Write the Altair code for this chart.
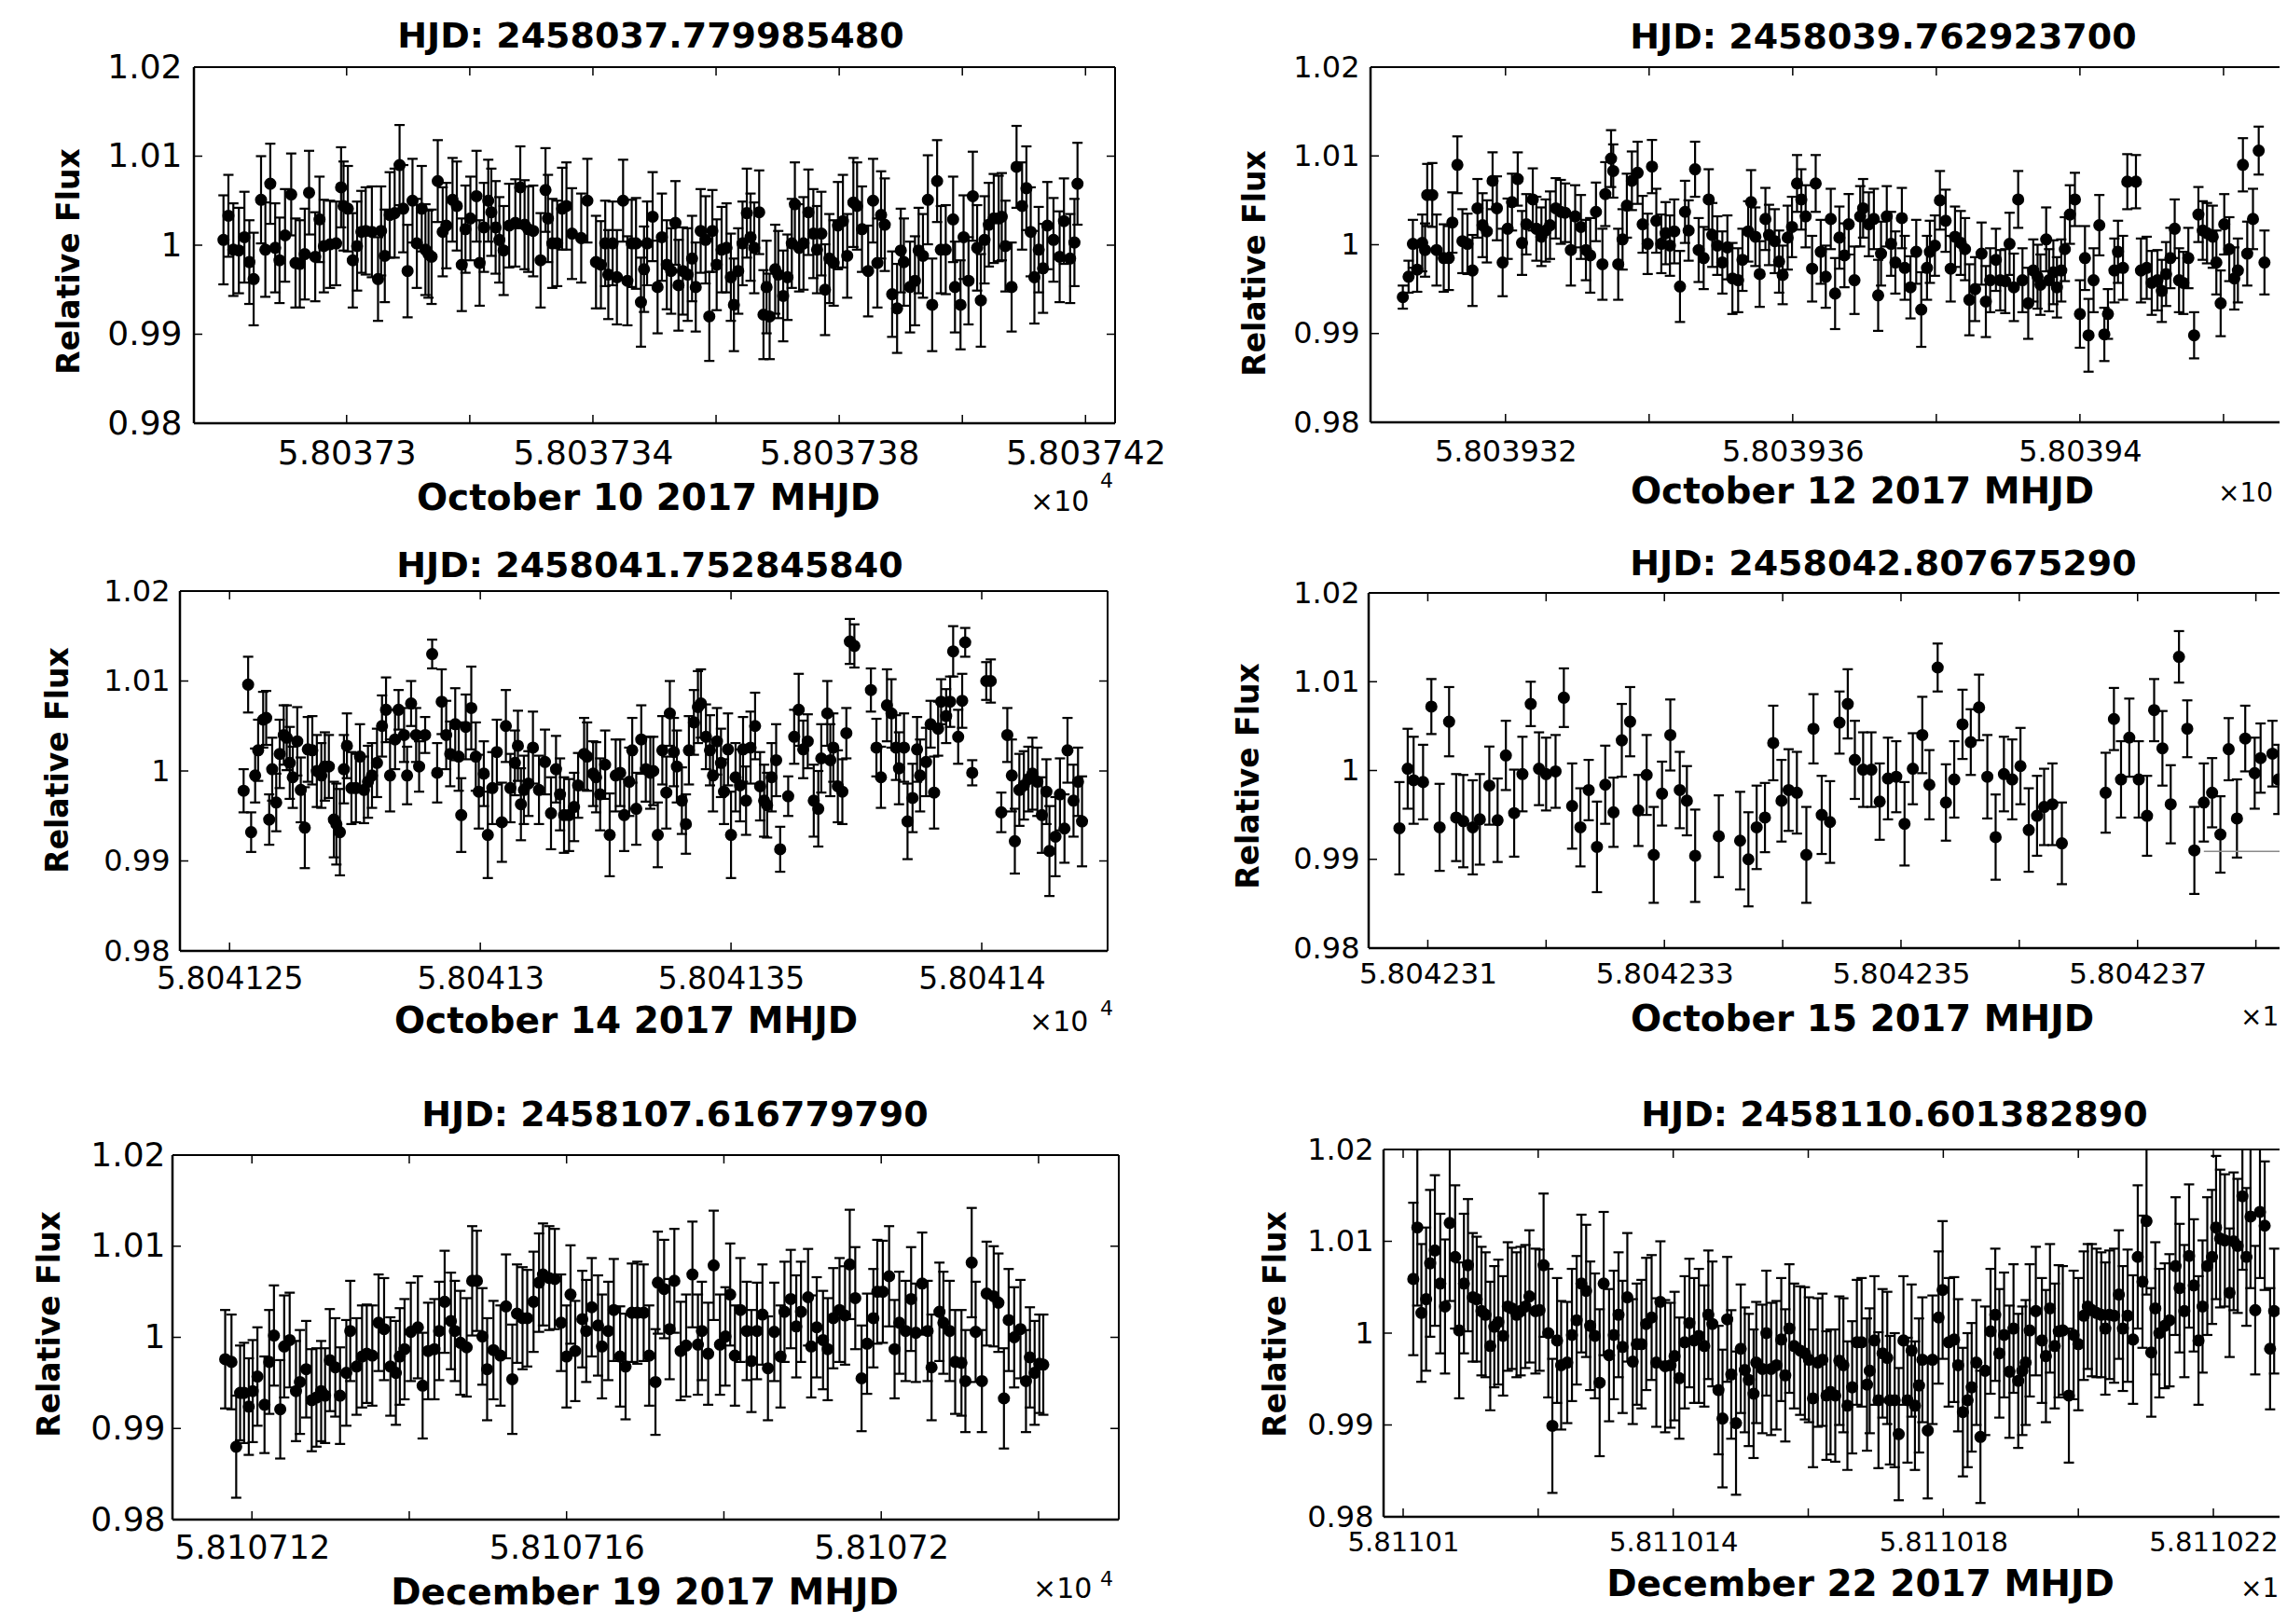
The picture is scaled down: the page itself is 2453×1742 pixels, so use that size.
import altair as alt
import pandas as pd

FONT = "DejaVu Sans"
Y_TICKS = [0.98, 0.99, 1.00, 1.01, 1.02]
Y_INNER = [0.99, 1.00, 1.01]

# ---------------- Panel 1 : October 10 2017 ----------------
P1_T0 = 58037
P1_XDOM = [58037.2752, 58037.4248]
P1_TICKS = [58037.30, 58037.32, 58037.34, 58037.36, 58037.38, 58037.40, 58037.42]
P1_LABELS = [58037.30, 58037.34, 58037.38, 58037.42]
P1_TITLE = "HJD: 2458037.779985480"
P1_XTITLE = "October 10 2017 MHJD"
P1_DATA = [
(.2800,1.0006,.0050),(.2808,1.0033,.0046),(.2816,.9995,.0052),(.2825,.9994,.0048),(.2834,1.0009,.0051),
(.2842,.9981,.0047),(.2849,.9962,.0052),(.2861,1.0051,.0049),(.2868,.9995,.0053),(.2876,1.0069,.0045),
(.2884,.9997,.0050),(.2891,.9983,.0048),(.2900,1.0011,.0052),(.2910,1.0057,.0046),(.2917,.9980,.0050),
(.2924,.9979,.0049),(.2932,.9990,.0051),(.2939,1.0059,.0047),(.2949,.9987,.0050),(.2956,1.0029,.0048),
(.2963,.9999,.0052),(.2973,1.0001,.0049),(.2983,1.0002,.0047),(.2991,1.0065,.0045),(.2995,1.0044,.0050),
(.3002,1.0041,.0048),(.3010,.9983,.0053),(.3017,.9999,.0050),(.3024,1.0015,.0046),(.3031,1.0016,.0049),
(.3041,1.0015,.0051),(.3051,.9962,.0047),(.3056,1.0016,.0050),(.3062,.9988,.0052),(.3070,1.0034,.0048),
(.3078,1.0036,.0050),(.3086,1.0090,.0045),(.3092,1.0041,.0049),(.3099,.9971,.0052),(.3107,1.0050,.0047),
(.3114,1.0002,.0050),(.3122,1.0041,.0048),(.3128,.9995,.0051),(.3133,.9990,.0049),(.3138,.9987,.0053),
(.3148,1.0072,.0046),(.3156,1.0015,.0050),(.3162,1.0022,.0048),(.3172,1.0051,.0047),(.3179,1.0044,.0050),
(.3187,.9978,.0052),(.3193,1.0018,.0049),(.3201,1.0030,.0047),(.3211,1.0055,.0051),(.3216,.9980,.0048),
(.3223,1.0020,.0050),(.3230,1.0050,.0046),(.3235,1.0037,.0049),(.3242,1.0020,.0052),(.3248,1.0006,.0048),
(.3255,.9994,.0050),(.3264,1.0022,.0047),(.3274,1.0025,.0049),(.3282,1.0065,.0046),(.3289,1.0023,.0050),
(.3295,1.0018,.0048),(.3303,1.0016,.0051),(.3315,.9983,.0053),(.3323,1.0062,.0047),(.3327,1.0030,.0049),
(.3334,1.0002,.0050),(.3342,1.0002,.0048),(.3350,1.0041,.0046),(.3357,1.0044,.0049),(.3366,1.0013,.0051),
(.3381,1.0008,.0050),(.3391,1.0050,.0047),(.3405,.9981,.0052),(.3413,.9978,.0049),(.3420,1.0002,.0048),
(.3425,.9967,.0050),(.3432,1.0002,.0047),(.3439,.9964,.0053),(.3449,1.0050,.0046),(.3456,.9960,.0050),
(.3463,1.0002,.0049),(.3470,1.0002,.0051),(.3478,.9936,.0050),(.3483,.9973,.0048),(.3488,1.0002,.0047),
(.3497,1.0032,.0050),(.3505,.9953,.0052),(.3512,1.0009,.0049),(.3520,.9978,.0050),(.3527,.9971,.0048),
(.3534,1.0025,.0047),(.3539,.9955,.0051),(.3546,.9971,.0049),(.3554,.9967,.0052),(.3561,.9985,.0048),
(.3567,.9953,.0050),(.3575,1.0016,.0047),(.3583,1.0006,.0049),(.3589,.9920,.0050),(.3594,1.0016,.0046),
(.3601,.9978,.0051),(.3609,.9995,.0048),(.3617,.9997,.0050),(.3624,.9964,.0049),(.3629,.9933,.0052),
(.3636,.9971,.0048),(.3643,1.0002,.0047),(.3650,1.0036,.0050),(.3656,1.0009,.0049),(.3662,.9997,.0051),
(.3670,1.0037,.0047),(.3677,.9922,.0050),(.3682,.9953,.0052),(.3687,.9920,.0048),(.3696,.9973,.0050),
(.3701,.9967,.0049),(.3709,.9943,.0051),(.3716,.9964,.0048),(.3723,1.0002,.0050),(.3728,1.0046,.0047),
(.3735,.9997,.0049),(.3742,1.0002,.0052),(.3750,1.0037,.0048),(.3758,1.0013,.0050),(.3764,.9995,.0049),
(.3771,1.0013,.0047),(.3777,.9950,.0051),(.3784,.9985,.0050),(.3791,.9980,.0048),(.3798,1.0022,.0049),
(.3806,1.0027,.0052),(.3813,.9988,.0047),(.3823,1.0048,.0050),(.3829,1.0044,.0049),(.3837,1.0018,.0048),
(.3847,.9971,.0051),(.3855,1.0050,.0047),(.3862,.9980,.0050),(.3868,1.0034,.0049),(.3874,1.0023,.0052),
(.3886,.9945,.0048),(.3894,.9929,.0050),(.3900,.9994,.0047),(.3905,.9981,.0049),(.3915,.9953,.0051),
(.3923,.9960,.0050),(.3929,.9994,.0048),(.3936,.9988,.0047),(.3944,1.0051,.0050),(.3951,.9933,.0052),
(.3959,1.0072,.0046),(.3965,.9995,.0049),(.3973,.9995,.0050),(.3985,1.0029,.0048),(.3988,.9953,.0051),
(.3997,.9933,.0050),(.4002,1.0009,.0047),(.4010,.9960,.0049),(.4017,1.0055,.0050),(.4024,.9997,.0048),
(.4030,.9938,.0052),(.4036,1.0006,.0049),(.4043,1.0023,.0047),(.4051,1.0030,.0050),(.4059,1.0030,.0048),
(.4064,1.0032,.0049),(.4070,.9999,.0051),(.4080,.9953,.0050),(.4088,1.0088,.0046),(.4097,1.0044,.0049),
(.4104,1.0064,.0047),(.4111,1.0015,.0050),(.4117,.9964,.0052),(.4124,.9995,.0048),(.4131,.9974,.0050),
(.4138,1.0022,.0049),(.4148,1.0006,.0047),(.4158,.9987,.0051),(.4165,1.0027,.0048),(.4175,.9985,.0050),
(.4182,1.0003,.0049),(.4187,1.0069,.0046)]

# ---------------- Panel 2 : October 12 2017 ----------------
P2_T0 = 58039
P2_XDOM = [58039.3012, 58039.4278]
P2_TICKS = [58039.32, 58039.34, 58039.36, 58039.38, 58039.40, 58039.42]
P2_LABELS = [58039.32, 58039.36, 58039.40]
P2_TITLE = "HJD: 2458039.762923700"
P2_XTITLE = "October 12 2017 MHJD"
P2_DATA = [
(.3057,.9941,.0013),(.3065,.9964,.0018),(.3071,1.0001,.0027),(.3077,.9972,.0025),(.3084,1.0002,.0032),
(.3088,.9994,.0030),(.3091,1.0056,.0035),(.3098,1.0056,.0036),(.3104,.9994,.0040),(.3114,.9985,.0038),
(.3121,.9985,.0036),(.3126,1.0025,.0034),(.3133,1.0090,.0032),(.3140,1.0004,.0036),(.3147,1.0001,.0034),
(.3154,.9971,.0040),(.3161,1.0041,.0033),(.3168,1.0022,.0036),(.3174,1.0015,.0035),(.3182,1.0072,.0032),
(.3188,1.0041,.0036),(.3196,.9980,.0038),(.3203,1.0018,.0034),(.3209,1.0048,.0032),(.3217,1.0074,.0030),
(.3223,1.0002,.0036),(.3229,1.0023,.0034),(.3238,1.0051,.0035),(.3243,1.0018,.0036),(.3250,1.0009,.0033),
(.3256,1.0016,.0035),(.3262,1.0022,.0038),(.3270,1.0041,.0034),(.3277,1.0037,.0036),(.3283,1.0036,.0033),
(.3291,.9994,.0040),(.3297,1.0032,.0035),(.3305,1.0020,.0036),(.3312,.9994,.0034),(.3318,.9988,.0042),
(.3326,1.0037,.0033),(.3335,.9978,.0040),(.3339,1.0057,.0036),(.3347,1.0097,.0032),(.3350,1.0083,.0030),
(.3357,.9978,.0040),(.3363,1.0006,.0034),(.3369,1.0044,.0036),(.3376,1.0072,.0033),(.3384,1.0081,.0035),
(.3391,1.0023,.0032),(.3398,1.0001,.0034),(.3404,1.0088,.0030),(.3410,1.0027,.0036),(.3417,1.0001,.0033),
(.3423,1.0013,.0035),(.3429,.9999,.0034),(.3435,1.0015,.0036),(.3443,.9953,.0040),(.3450,1.0037,.0035),
(.3455,1.0016,.0034),(.3464,1.0085,.0031),(.3469,.9994,.0036),(.3476,.9985,.0035),(.3483,1.0051,.0034),
(.3488,1.0011,.0036),(.3495,.9999,.0033),(.3502,.9980,.0035),(.3509,.9997,.0036),(.3516,.9962,.0040),
(.3524,.9960,.0036),(.3530,.9983,.0035),(.3538,1.0015,.0034),(.3542,1.0048,.0036),(.3548,1.0009,.0033),
(.3554,.9967,.0037),(.3562,1.0029,.0035),(.3567,1.0011,.0034),(.3575,1.0004,.0036),(.3581,.9981,.0035),
(.3586,.9966,.0033),(.3593,1.0008,.0036),(.3599,1.0020,.0034),(.3606,1.0069,.0032),(.3612,1.0051,.0034),
(.3618,1.0032,.0035),(.3627,.9973,.0037),(.3632,1.0069,.0032),(.3639,.9992,.0036),(.3646,.9964,.0035),
(.3653,1.0029,.0034),(.3659,.9945,.0040),(.3665,1.0008,.0035),(.3672,.9988,.0036),(.3678,1.0023,.0034),
(.3686,.9960,.0038),(.3694,1.0032,.0034),(.3698,1.0041,.0033),(.3706,1.0023,.0036),(.3713,1.0029,.0034),
(.3719,.9943,.0040),(.3723,.9990,.0036),(.3731,1.0032,.0034),(.3737,1.0001,.0036),(.3743,.9980,.0035),
(.3752,1.0030,.0034),(.3756,.9974,.0036),(.3764,.9952,.0035),(.3772,.9992,.0036),(.3779,.9927,.0042),
(.3787,.9974,.0036),(.3791,.9992,.0035),(.3798,.9999,.0034),(.3805,1.0050,.0033),(.3813,1.0027,.0035),
(.3820,.9973,.0037),(.3826,1.0009,.0034),(.3834,1.0002,.0036),(.3840,.9995,.0035),(.3846,.9938,.0040),
(.3854,.9950,.0036),(.3863,.9990,.0035),(.3869,.9936,.0040),(.3875,.9960,.0036),(.3883,.9983,.0035),
(.3889,.9960,.0034),(.3896,.9959,.0036),(.3902,1.0001,.0035),(.3908,.9952,.0038),(.3914,1.0051,.0032),
(.3920,.9960,.0036),(.3928,.9934,.0040),(.3935,.9971,.0035),(.3941,.9964,.0036),(.3945,.9955,.0034),
(.3953,1.0006,.0036),(.3957,.9960,.0035),(.3963,.9969,.0036),(.3968,.9952,.0034),(.3974,.9971,.0035),
(.3979,.9995,.0036),(.3986,1.0034,.0033),(.3993,1.0051,.0030),(.4000,.9922,.0038),(.4007,.9985,.0036),
(.4012,.9898,.0041),(.4019,.9960,.0036),(.4027,1.0022,.0034),(.4034,.9899,.0030),(.4039,.9922,.0028),
(.4048,.9971,.0036),(.4053,.9992,.0035),(.4060,.9974,.0036),(.4066,1.0071,.0031),(.4078,1.0071,.0030),
(.4085,.9971,.0036),(.4093,.9974,.0035),(.4100,.9957,.0036),(.4108,.9960,.0034),(.4114,.9948,.0035),
(.4120,.9967,.0036),(.4126,.9985,.0034),(.4132,1.0018,.0033),(.4138,.9960,.0036),(.4144,.9957,.0035),
(.4151,.9985,.0034),(.4159,.9898,.0026),(.4165,1.0034,.0031),(.4171,1.0016,.0033),(.4177,1.0013,.0034),
(.4185,1.0009,.0035),(.4190,.9980,.0036),(.4196,.9934,.0037),(.4201,1.0023,.0034),(.4208,.9995,.0036),
(.4215,.9962,.0035),(.4220,.9971,.0036),(.4227,1.0090,.0030),(.4233,.9990,.0036),(.4241,1.0029,.0034),
(.4249,1.0106,.0027),(.4257,.9980,.0036)]

# ---------------- Panel 3 : October 14 2017 ----------------
P3_T0 = 58041
P3_XDOM = [58041.2401, 58041.4251]
P3_TICKS = [58041.25, 58041.30, 58041.35, 58041.40]
P3_LABELS = [58041.25, 58041.30, 58041.35, 58041.40]
P3_TITLE = "HJD: 2458041.752845840"
P3_XTITLE = "October 14 2017 MHJD"
P3_DATA = [
(.2528,.9978,.0024),(.2537,1.0096,.0031),(.2543,.9932,.0022),(.2551,.9995,.0030),(.2557,1.0023,.0034),
(.2567,1.0057,.0031),(.2573,1.0059,.0030),(.2579,.9946,.0028),(.2585,1.0002,.0035),(.2593,.9965,.0032),
(.2600,1.0019,.0038),(.2608,1.0040,.0033),(.2614,1.0037,.0036),(.2620,1.0009,.0040),(.2626,.9993,.0034),
(.2635,1.0033,.0038),(.2642,.9979,.0036),(.2650,.9937,.0045),(.2656,1.0024,.0036),(.2665,1.0023,.0038),
(.2674,1.0000,.0040),(.2683,.9995,.0036),(.2690,1.0005,.0038),(.2698,1.0005,.0035),(.2708,.9946,.0042),
(.2713,.9941,.0045),(.2720,.9932,.0048),(.2728,1.0002,.0038),(.2734,1.0028,.0036),(.2743,.9981,.0040),
(.2752,.9981,.0038),(.2760,1.0016,.0036),(.2768,.9979,.0037),(.2776,.9988,.0040),(.2784,.9995,.0036),
(.2794,1.0009,.0038),(.2804,1.0050,.0034),(.2812,1.0068,.0036),(.2820,.9995,.0040),(.2830,1.0035,.0033),
(.2837,1.0068,.0022),(.2848,1.0040,.0030),(.2854,.9995,.0032),(.2862,1.0075,.0025),(.2872,1.0040,.0030),
(.2878,1.0005,.0028),(.2890,1.0040,.0020),(.2904,1.0130,.0016),(.2914,.9998,.0033),(.2923,1.0077,.0036),
(.2932,1.0040,.0038),(.2940,1.0019,.0036),(.2950,1.0052,.0040),(.2957,1.0016,.0038),(.2962,.9951,.0041),
(.2971,1.0049,.0036),(.2982,1.0070,.0046),(.2991,1.0016,.0038),(.2997,.9977,.0041),(.3007,.9997,.0036),
(.3015,.9929,.0048),(.3024,.9981,.0040),(.3033,1.0021,.0036),(.3043,.9943,.0044),(.3051,1.0050,.0040),
(.3060,.9981,.0038),(.3069,1.0009,.0036),(.3075,1.0028,.0039),(.3081,.9963,.0040),(.3087,.9979,.0038),
(.3096,.9986,.0036),(.3105,1.0026,.0040),(.3117,.9979,.0038),(.3129,1.0010,.0036),(.3141,.9953,.0040),
(.3151,1.0002,.0037),(.3159,.9974,.0040),(.3167,.9951,.0042),(.3177,.9951,.0040),(.3187,.9960,.0038),
(.3195,.9984,.0036),(.3207,1.0019,.0040),(.3213,1.0016,.0038),(.3225,.9997,.0036),(.3231,.9993,.0039),
(.3239,.9974,.0040),(.3249,1.0007,.0038),(.3258,.9929,.0046),(.3270,.9995,.0040),(.3279,.9998,.0037),
(.3287,.9951,.0040),(.3297,.9988,.0038),(.3303,1.0023,.0036),(.3311,.9958,.0040),(.3321,1.0035,.0038),
(.3330,1.0002,.0036),(.3339,.9998,.0040),(.3345,1.0000,.0038),(.3354,.9929,.0036),(.3363,1.0023,.0038),
(.3371,.9976,.0040),(.3378,1.0064,.0036),(.3386,1.0021,.0038),(.3392,1.0005,.0040),(.3402,.9967,.0037),
(.3410,.9941,.0033),(.3416,1.0023,.0038),(.3426,1.0054,.0036),(.3434,1.0071,.0040),(.3440,1.0075,.0038),
(.3450,1.0038,.0036),(.3458,1.0023,.0039),(.3464,.9995,.0040),(.3472,1.0033,.0037),(.3480,1.0009,.0038),
(.3486,.9977,.0036),(.3494,1.0024,.0040),(.3500,.9929,.0048),(.3509,.9993,.0038),(.3518,.9984,.0040),
(.3524,1.0024,.0036),(.3530,.9967,.0038),(.3539,1.0026,.0040),(.3548,1.0050,.0037),(.3558,.9983,.0038),
(.3566,.9967,.0040),(.3572,.9962,.0036),(.3581,.9993,.0038),(.3590,1.0012,.0040),(.3598,.9913,.0025),
(.3614,.9972,.0022),(.3626,1.0038,.0030),(.3635,1.0068,.0040),(.3644,1.0024,.0032),(.3653,1.0033,.0030),
(.3665,.9967,.0040),(.3674,.9958,.0042),(.3680,1.0014,.0038),(.3692,1.0064,.0036),(.3698,1.0012,.0040),
(.3704,1.0026,.0038),(.3713,.9983,.0040),(.3722,.9977,.0036),(.3730,1.0042,.0028),(.3737,1.0144,.0025),
(.3746,1.0139,.0024),(.3779,1.0090,.0024),(.3790,1.0026,.0032),(.3799,.9993,.0034),(.3811,1.0073,.0040),
(.3820,1.0064,.0038),(.3829,1.0026,.0036),(.3835,1.0003,.0040),(.3845,1.0026,.0038),(.3852,.9944,.0042),
(.3862,.9970,.0038),(.3871,1.0024,.0036),(.3877,.9995,.0040),(.3889,1.0010,.0038),(.3898,1.0052,.0026),
(.3905,.9976,.0040),(.3913,1.0047,.0030),(.3919,1.0077,.0025),(.3929,1.0061,.0030),(.3937,1.0077,.0028),
(.3943,1.0133,.0028),(.3953,1.0038,.0030),(.3961,1.0078,.0030),(.3967,1.0143,.0016),(.3981,.9998,.0014),
(.4009,1.0100,.0021),(.4018,1.0100,.0024),(.4039,.9954,.0022),(.4051,1.0040,.0030),(.4060,.9995,.0040),
(.4066,.9922,.0036),(.4075,.9979,.0040),(.4084,.9984,.0038),(.4093,.9991,.0036),(.4101,.9997,.0040),
(.4111,.9988,.0038),(.4120,.9951,.0042),(.4129,.9977,.0036),(.4135,.9911,.0050),(.4147,.9927,.0044),
(.4156,.9974,.0040),(.4165,.9936,.0038),(.4171,1.0023,.0036),(.4183,.9967,.0040),(.4192,.9988,.0038),
(.4200,.9944,.0050)]

# ---------------- Panel 4 : October 15 2017 ----------------
P4_T0 = 58042
P4_XDOM = [58042.3050, 58042.3820]
P4_TICKS = [58042.31, 58042.32, 58042.33, 58042.34, 58042.35, 58042.36, 58042.37, 58042.38]
P4_LABELS = [58042.31, 58042.33, 58042.35, 58042.37]
P4_TITLE = "HJD: 2458042.807675290"
P4_XTITLE = "October 15 2017 MHJD"
P4_DATA = [
(.3076,.9935,.0052),(.3083,1.0002,.0045),(.3088,.9989,.0049),(.3096,.9987,.0042),(.3103,1.0072,.0031),
(.3110,.9936,.0049),(.3118,1.0055,.0039),(.3124,.9947,.0049),(.3130,.9943,.0052),(.3138,.9936,.0053),
(.3144,.9945,.0051),(.3152,.9983,.0044),(.3159,.9944,.0047),(.3166,1.0017,.0039),(.3173,.9952,.0049),
(.3180,.9996,.0042),(.3187,1.0075,.0025),(.3194,1.0002,.0041),(.3200,.9996,.0041),(.3208,.9999,.0041),
(.3215,1.0082,.0033),(.3222,.9960,.0048),(.3229,.9936,.0044),(.3236,.9978,.0034),(.3243,.9914,.0051),
(.3250,.9984,.0044),(.3257,.9953,.0039),(.3264,1.0034,.0041),(.3271,1.0055,.0039),(.3278,.9955,.0040),
(.3285,.9995,.0045),(.3291,.9905,.0054),(.3298,.9974,.0036),(.3305,1.0040,.0040),(.3313,.9978,.0043),
(.3319,.9966,.0039),(.3326,.9904,.0052),(.3346,.9926,.0046),(.3364,.9921,.0055),(.3371,.9900,.0053),
(.3378,.9936,.0047),(.3385,.9947,.0039),(.3392,1.0031,.0042),(.3399,.9966,.0046),(.3405,.9978,.0046),
(.3412,.9975,.0046),(.3420,.9905,.0054),(.3426,1.0047,.0039),(.3433,.9950,.0044),(.3440,.9942,.0046),
(.3448,1.0054,.0035),(.3455,1.0075,.0039),(.3461,1.0012,.0044),(.3468,1.0001,.0042),(.3475,1.0001,.0042),
(.3482,.9965,.0043),(.3489,.9991,.0046),(.3496,.9993,.0040),(.3503,.9940,.0047),(.3510,1.0002,.0040),
(.3518,1.0040,.0043),(.3524,.9984,.0039),(.3531,1.0116,.0027),(.3538,.9964,.0043),(.3545,.9990,.0043),
(.3552,1.0052,.0039),(.3559,1.0032,.0037),(.3566,1.0071,.0037),(.3573,.9993,.0047),(.3580,.9925,.0048),
(.3587,.9996,.0042),(.3594,.9990,.0045),(.3601,1.0005,.0043),(.3608,.9933,.0047),(.3615,.9949,.0045),
(.3621,.9959,.0043),(.3628,.9962,.0046),(.3636,.9918,.0046),(.3673,.9975,.0045),(.3680,1.0058,.0035),
(.3686,.9990,.0043),(.3693,1.0037,.0044),(.3701,.9990,.0043),(.3708,.9949,.0045),(.3714,1.0068,.0035),
(.3721,1.0025,.0042),(.3728,.9962,.0044),(.3735,1.0128,.0029),(.3742,1.0047,.0032),(.3748,.9910,.0049),
(.3756,.9964,.0044),(.3763,.9975,.0039),(.3770,.9928,.0043),(.3777,1.0024,.0035),(.3784,.9946,.0044),
(.3791,1.0036,.0037),(.3799,.9997,.0040),(.3804,1.0014,.0039),(.3814,1.0019,.0037),(.3819,.9990,.0039)]
P4_LINE = [(.3756, .3820, .9909)]

# ---------------- Panel 5 : December 19 2017 ----------------
P5_T0 = 58107
P5_XDOM = [58107.1099, 58107.2302]
P5_TICKS = [58107.12, 58107.14, 58107.16, 58107.18, 58107.20, 58107.22]
P5_LABELS = [58107.12, 58107.16, 58107.20]
P5_TITLE = "HJD: 2458107.616779790"
P5_XTITLE = "December 19 2017 MHJD"
P5_DATA = [
(.1166,.9976,.0054),(.1174,.9973,.0052),(.1180,.9880,.0056),(.1185,.9939,.0052),(.1190,.9939,.0055),
(.1196,.9924,.0053),(.1201,.9941,.0056),(.1207,.9957,.0054),(.1216,.9926,.0053),(.1222,.9973,.0057),
(.1228,1.0002,.0055),(.1236,.9921,.0054),(.1241,.9990,.0056),(.1248,.9997,.0052),(.1256,.9941,.0055),
(.1261,.9951,.0057),(.1269,.9965,.0053),(.1276,.9931,.0056),(.1282,.9934,.0054),(.1288,.9941,.0055),
(.1293,.9936,.0052),(.1299,.9975,.0056),(.1306,.9967,.0054),(.1312,.9936,.0053),(.1320,.9961,.0058),
(.1325,1.0007,.0055),(.1333,.9968,.0053),(.1340,.9979,.0056),(.1346,.9982,.0054),(.1353,.9980,.0055),
(.1361,1.0016,.0053),(.1368,1.0009,.0056),(.1376,.9968,.0054),(.1383,.9961,.0057),(.1388,.9979,.0053),
(.1394,.9987,.0055),(.1402,1.0006,.0054),(.1411,1.0011,.0056),(.1417,.9947,.0058),(.1424,.9985,.0053),
(.1432,.9987,.0055),(.1438,1.0007,.0054),(.1445,1.0039,.0056),(.1453,1.0018,.0053),(.1458,1.0007,.0055),
(.1465,.9994,.0057),(.1473,.9989,.0054),(.1480,1.0062,.0060),(.1486,1.0062,.0055),(.1493,1.0001,.0053),
(.1499,.9965,.0056),(.1507,.9986,.0054),(.1516,.9980,.0055),(.1523,1.0034,.0057),(.1531,.9954,.0060),
(.1537,1.0026,.0054),(.1544,1.0021,.0056),(.1550,1.0021,.0053),(.1558,1.0039,.0055),(.1565,1.0060,.0054),
(.1570,1.0069,.0056),(.1578,1.0065,.0057),(.1585,1.0064,.0055),(.1593,1.0016,.0053),(.1600,.9979,.0056),
(.1605,1.0047,.0054),(.1611,.9985,.0055),(.1620,1.0020,.0053),(.1625,1.0007,.0056),(.1632,1.0033,.0054),
(.1640,1.0013,.0055),(.1645,.9990,.0057),(.1653,1.0007,.0054),(.1660,1.0030,.0056),(.1668,.9979,.0055),
(.1675,.9968,.0058),(.1683,1.0027,.0054),(.1690,1.0027,.0056),(.1698,1.0027,.0053),(.1705,.9980,.0055),
(.1713,.9951,.0058),(.1716,1.0060,.0056),(.1724,1.0053,.0054),(.1731,1.0009,.0055),(.1737,1.0062,.0057),
(.1745,.9985,.0054),(.1752,.9991,.0056),(.1760,1.0069,.0058),(.1767,.9992,.0055),(.1772,1.0007,.0054),
(.1780,.9982,.0056),(.1787,1.0079,.0060),(.1795,.9992,.0055),(.1802,1.0001,.0054),(.1808,1.0047,.0056),
(.1814,.9980,.0055),(.1821,1.0030,.0057),(.1829,1.0007,.0054),(.1835,.9974,.0056),(.1842,1.0007,.0053),
(.1849,1.0025,.0055),(.1856,.9966,.0057),(.1864,1.0006,.0054),(.1872,.9979,.0056),(.1877,1.0028,.0055),
(.1885,1.0042,.0054),(.1892,1.0012,.0056),(.1898,1.0028,.0055),(.1907,1.0044,.0053),(.1911,.9990,.0056),
(.1918,1.0011,.0055),(.1926,.9997,.0054),(.1932,.9987,.0056),(.1939,1.0021,.0055),(.1947,1.0030,.0057),
(.1954,1.0024,.0054),(.1960,1.0080,.0060),(.1967,1.0043,.0056),(.1975,.9955,.0058),(.1982,.9993,.0055),
(.1990,1.0021,.0054),(.1995,1.0050,.0057),(.2002,1.0050,.0056),(.2010,1.0067,.0055),(.2017,.9987,.0054),
(.2023,1.0016,.0056),(.2031,1.0007,.0055),(.2038,1.0042,.0057),(.2044,1.0005,.0054),(.2052,1.0059,.0056),
(.2059,1.0007,.0055),(.2064,.9967,.0058),(.2074,1.0028,.0054),(.2079,1.0016,.0056),(.2087,1.0007,.0055),
(.2094,.9973,.0057),(.2102,.9972,.0058),(.2107,.9952,.0056),(.2115,1.0082,.0060),(.2120,1.0006,.0055),
(.2128,.9952,.0056),(.2134,1.0048,.0057),(.2143,1.0045,.0055),(.2149,1.0038,.0054),(.2156,.9933,.0055),
(.2162,1.0019,.0056),(.2169,1.0000,.0055),(.2177,1.0009,.0054),(.2184,.9952,.0056),(.2189,.9978,.0055),
(.2195,.9961,.0057),(.2201,.9971,.0054),(.2206,.9970,.0055)]

# ---------------- Panel 6 : December 22 2017 ----------------
P6_T0 = 58110
P6_XDOM = [58110.0971, 58110.2298]
P6_TICKS = [58110.10, 58110.12, 58110.14, 58110.16, 58110.18, 58110.20, 58110.22]
P6_LABELS = [58110.10, 58110.14, 58110.18, 58110.22]
P6_TITLE = "HJD: 2458110.601382890"
P6_XTITLE = "December 22 2017 MHJD"
P6_DATA = [
(.1015,1.0059,.0083),(.1021,1.0115,.0085),(.1027,1.0022,.0075),(.1034,1.0037,.0078),(.1040,1.0076,.0080),
(.1047,1.0090,.0082),(.1055,1.0054,.0076),(.1062,1.0029,.0073),(.1069,1.0120,.0085),(.1077,1.0083,.0078),
(.1083,1.0003,.0074),(.1090,1.0054,.0076),(.1096,1.0074,.0072),(.1103,1.0039,.0070),(.1109,1.0037,.0068),
(.1116,1.0024,.0070),(.1122,1.0020,.0068),(.1129,.9986,.0070),(.1135,1.0007,.0066),(.1141,1.0012,.0068),
(.1148,.9997,.0065),(.1155,1.0029,.0070),(.1161,1.0027,.0066),(.1168,1.0020,.0068),(.1174,1.0024,.0070),
(.1181,1.0029,.0067),(.1187,1.0040,.0072),(.1196,1.0024,.0068),(.1202,1.0025,.0066),(.1208,1.0074,.0078),
(.1215,1.0000,.0070),(.1221,.9899,.0073),(.1228,.9992,.0068),(.1234,.9965,.0070),(.1243,.9968,.0066),
(.1250,.9998,.0072),(.1257,1.0014,.0070),(.1264,1.0054,.0075),(.1271,1.0046,.0072),(.1277,1.0008,.0070),
(.1284,.9997,.0068),(.1291,.9946,.0080),(.1297,1.0054,.0078),(.1305,.9976,.0072),(.1312,.9998,.0070),
(.1319,1.0020,.0068),(.1325,.9985,.0072),(.1332,1.0039,.0070),(.1340,.9969,.0068),(.1346,.9988,.0066),
(.1353,.9988,.0070),(.1360,1.0010,.0072),(.1368,1.0017,.0068),(.1375,.9968,.0070),(.1381,1.0034,.0066),
(.1388,.9964,.0072),(.1396,.9965,.0068),(.1402,.9975,.0070),(.1409,.9951,.0066),(.1417,.9990,.0072),
(.1424,1.0011,.0070),(.1431,.9992,.0068),(.1438,.9997,.0073),(.1446,.9986,.0066),(.1452,1.0020,.0070),
(.1458,1.0010,.0068),(.1467,.9938,.0070),(.1473,.9907,.0075),(.1480,1.0015,.0068),(.1486,.9955,.0070),
(.1493,.9902,.0078),(.1500,.9983,.0070),(.1506,.9960,.0068),(.1512,.9949,.0072),(.1519,.9934,.0070),
(.1523,.9968,.0066),(.1532,.9961,.0070),(.1538,1.0000,.0068),(.1545,.9961,.0072),(.1553,.9965,.0070),
(.1560,.9993,.0067),(.1566,.9954,.0072),(.1572,1.0005,.0070),(.1579,.9986,.0068),(.1588,.9981,.0070),
(.1595,.9978,.0072),(.1601,.9971,.0068),(.1607,.9929,.0075),(.1614,.9968,.0070),(.1621,.9971,.0072),
(.1627,.9932,.0070),(.1633,.9936,.0068),(.1640,.9932,.0072),(.1646,.9970,.0070),(.1652,.9965,.0073),
(.1658,.9921,.0070),(.1665,.9941,.0072),(.1672,.9990,.0068),(.1679,.9990,.0070),(.1687,.9944,.0072),
(.1691,.9959,.0068),(.1698,.9992,.0070),(.1704,.9927,.0074),(.1710,.9978,.0070),(.1717,.9973,.0072),
(.1721,.9927,.0070),(.1728,.9927,.0073),(.1734,.9890,.0072),(.1741,.9992,.0070),(.1747,.9927,.0068),
(.1753,.9981,.0072),(.1758,.9921,.0070),(.1764,.9943,.0073),(.1769,.9971,.0068),(.1777,.9894,.0074),
(.1784,.9971,.0070),(.1793,1.0017,.0072),(.1799,1.0047,.0075),(.1808,.9990,.0070),(.1816,.9993,.0068),
(.1822,.9965,.0072),(.1829,.9914,.0070),(.1836,.9927,.0073),(.1842,.9941,.0070),(.1849,.9968,.0068),
(.1855,.9887,.0072),(.1862,.9959,.0070),(.1870,1.0002,.0068),(.1877,1.0020,.0072),(.1883,.9978,.0070),
(.1890,.9998,.0068),(.1898,.9958,.0072),(.1904,1.0005,.0070),(.1911,.9948,.0073),(.1917,.9959,.0070),
(.1922,.9968,.0068),(.1928,1.0003,.0072),(.1937,1.0024,.0070),(.1946,.9992,.0068),(.1952,.9975,.0072),
(.1958,1.0027,.0070),(.1965,.9986,.0068),(.1971,1.0002,.0072),(.1977,1.0003,.0070),(.1986,.9932,.0073),
(.1993,.9998,.0070),(.2000,.9988,.0072),(.2008,1.0019,.0070),(.2014,1.0029,.0068),(.2020,1.0025,.0072),
(.2027,1.0022,.0070),(.2034,1.0020,.0068),(.2040,1.0005,.0072),(.2046,1.0020,.0070),(.2053,1.0019,.0073),
(.2060,1.0042,.0070),(.2066,1.0005,.0068),(.2073,1.0019,.0072),(.2081,.9993,.0070),(.2088,1.0083,.0078),
(.2095,1.0056,.0072),(.2101,1.0122,.0080),(.2108,.9979,.0070),(.2114,1.0027,.0072),(.2120,1.0000,.0070),
(.2128,1.0008,.0068),(.2135,1.0014,.0072),(.2144,1.0073,.0075),(.2150,1.0049,.0070),(.2157,1.0024,.0072),
(.2164,1.0084,.0078),(.2171,1.0052,.0072),(.2178,.9992,.0070),(.2184,1.0029,.0072),(.2191,1.0073,.0075),
(.2198,1.0083,.0073),(.2204,1.0115,.0078),(.2210,1.0103,.0075),(.2217,1.0101,.0072),(.2224,1.0044,.0070),
(.2230,1.0100,.0075),(.2236,1.0095,.0073),(.2243,1.0149,.0080),(.2249,1.0083,.0075),(.2255,1.0127,.0078),
(.2262,1.0025,.0070),(.2269,1.0132,.0072),(.2276,1.0117,.0070),(.2284,.9983,.0066),(.2290,1.0024,.0068)]

ONE = pd.DataFrame({"a": [0]})

# cw/h: cell size; off/xr: plot left/right inside the cell; top: plot top inside the cell.
G1 = dict(cw=1015, off=23, xr=1011, h=382, top=0, tf=36, tfy=36, lpx=32, lpy=13, xtx=487,
          xty=80, ytx=-134, yty=208, tx=490, ty=-32, right=True, xl="×10", xlf=30, xlx=897,
          xly=467, sup=(972, 444))
G2 = dict(cw=977, off=2, xr=977, h=381, top=0, tf=32, tfy=32, lpx=31, lpy=12, xtx=527, xty=74,
          ytx=-124, yty=210, tx=550, ty=-31, right=False, xl="×10", xlf=28, xlx=909, xly=458,
          sup=None)
G3 = dict(cw=1015, off=8, xr=1003, h=386, top=0, tf=33, tfy=32, lpx=30, lpy=11, xtx=478,
          xty=75, ytx=-131, yty=181, tx=504, ty=-26, right=True, xl="×10", xlf=30, xlx=911,
          xly=463, sup=(987, 448))
G4 = dict(cw=977, off=0, xr=977, h=383, top=2, tf=31, tfy=32, lpx=28, lpy=10, xtx=529, xty=76,
          ytx=-129, yty=198, tx=552, ty=-28, right=False, xl="×1", xlf=28, xlx=935, xly=458,
          sup=None)
G5 = dict(cw=1015, off=0, xr=1015, h=397, top=6, tf=35, tfy=36, lpx=30, lpy=8, xtx=506,
          xty=78, ytx=-132, yty=187, tx=539, ty=-36, right=True, xl="×10", xlf=30, xlx=923,
          xly=472, sup=(995, 461))
G6 = dict(cw=977, off=16, xr=977, h=394, top=0, tf=29, tfy=32, lpx=27, lpy=11, xtx=511, xty=72,
          ytx=-116, yty=187, tx=548, ty=-36, right=False, xl="×1", xlf=28, xlx=919, xly=472,
          sup=None)


def panel(t0, xdom, ticks, labels, data, title, xtitle, g, line=None):
    CW, H, o, R, T = g["cw"], g["h"], g["off"], g["xr"], g["top"]
    df = pd.DataFrame(data, columns=["t", "f", "e"])
    df["x"] = t0 + df["t"]
    df["lo"] = df["f"] - df["e"]
    df["hi"] = df["f"] + df["e"]
    xs = alt.Scale(domain=xdom, range=[o, R], nice=False, zero=False)
    ys = alt.Scale(domain=[0.98, 1.02], range=[H, T], nice=False, zero=False)
    xaxis = alt.Axis(values=labels, labelExpr="format(datum.value / 10000, '.7~f')",
                     ticks=False, domain=False, grid=False, labelFont=FONT,
                     labelFontSize=g["tf"], labelColor="black", labelPadding=g["lpx"],
                     labelBaseline="middle", labelFlush=False, labelOverlap=False,
                     title=xtitle, titleFont=FONT, titleFontSize=39, titleFontWeight="bold",
                     titleColor="black", titleX=g["xtx"] + o, titleY=g["xty"],
                     titleAlign="center", titleBaseline="middle")
    yaxis = alt.Axis(values=Y_TICKS, offset=-o,
                     labelExpr="datum.value == 1 ? '1' : format(datum.value, '.2f')",
                     ticks=False, domain=False, grid=False, labelFont=FONT,
                     labelFontSize=g["tfy"], labelColor="black", labelPadding=g["lpy"],
                     labelAlign="right", labelBaseline="middle", labelFlush=False,
                     labelOverlap=False, title="Relative Flux", titleFont=FONT,
                     titleFontSize=33, titleFontWeight="bold", titleColor="black",
                     titleX=g["ytx"], titleY=g["yty"], titleAngle=270,
                     titleAlign="center", titleBaseline="middle")

    def XF(field):
        return alt.X(field, type="quantitative", scale=xs, axis=xaxis)

    def YF(field):
        return alt.Y(field, type="quantitative", scale=ys, axis=yaxis)

    base = alt.Chart(df)
    bars = base.mark_rule(color="black", strokeWidth=2.2, clip=True).encode(
        x=XF("x"), y=YF("lo"), y2="hi:Q")
    cap_lo = base.mark_tick(orient="horizontal", color="black", size=11, thickness=2.2,
                            opacity=1, clip=True).encode(x=XF("x"), y=YF("lo"))
    cap_hi = base.mark_tick(orient="horizontal", color="black", size=11, thickness=2.2,
                            opacity=1, clip=True).encode(x=XF("x"), y=YF("hi"))
    dots = base.mark_circle(color="black", size=170, opacity=1, clip=True).encode(
        x=XF("x"), y=YF("f"))
    layers = [bars, cap_lo, cap_hi, dots]
    if line is not None:
        ldf = pd.DataFrame(line, columns=["a", "b", "y"])
        ldf["a"] = t0 + ldf["a"]
        ldf["b"] = t0 + ldf["b"]
        layers.append(alt.Chart(ldf).mark_rule(color="#8a8a8a", strokeWidth=1.5, clip=True).encode(
            x=XF("a"), x2="b:Q", y=YF("y")))
    fr = alt.Chart(ONE)
    layers.append(fr.mark_rule(color="black", strokeWidth=2).encode(
        x=alt.value(o), x2=alt.value(R), y=alt.value(T)))
    layers.append(fr.mark_rule(color="black", strokeWidth=2.5).encode(
        x=alt.value(o), x2=alt.value(R), y=alt.value(H)))
    layers.append(fr.mark_rule(color="black", strokeWidth=2.5).encode(
        x=alt.value(o), y=alt.value(T), y2=alt.value(H)))
    tdf = pd.DataFrame({"v": ticks})
    ydf = pd.DataFrame({"v": Y_INNER})
    layers.append(alt.Chart(tdf).mark_rule(color="black", strokeWidth=1.5).encode(
        x=XF("v"), y=alt.value(H), y2=alt.value(H - 9)))
    layers.append(alt.Chart(tdf).mark_rule(color="black", strokeWidth=1.5).encode(
        x=XF("v"), y=alt.value(T), y2=alt.value(T + 9)))
    layers.append(alt.Chart(ydf).mark_rule(color="black", strokeWidth=1.5).encode(
        y=YF("v"), x=alt.value(o), x2=alt.value(o + 9)))
    if g["right"]:
        layers.append(fr.mark_rule(color="black", strokeWidth=2).encode(
            x=alt.value(R), y=alt.value(T), y2=alt.value(H)))
        layers.append(alt.Chart(ydf).mark_rule(color="black", strokeWidth=1.5).encode(
            y=YF("v"), x=alt.value(R), x2=alt.value(R - 9)))
    layers.append(fr.mark_text(text=title, font=FONT, fontSize=38, fontWeight="bold",
                               color="black", align="center", baseline="middle").encode(
        x=alt.value(g["tx"] + o), y=alt.value(g["ty"])))
    layers.append(fr.mark_text(text=g["xl"], font=FONT, fontSize=g["xlf"], color="black",
                               align="left", baseline="middle").encode(
        x=alt.value(g["xlx"] + o), y=alt.value(g["xly"])))
    if g["sup"] is not None:
        layers.append(fr.mark_text(text="4", font=FONT, fontSize=22, color="black",
                                   align="left", baseline="middle").encode(
            x=alt.value(g["sup"][0] + o), y=alt.value(g["sup"][1])))
    return alt.layer(*layers).properties(width=CW, height=H)


def spacer(w, h):
    return alt.Chart(ONE).mark_rule(color="white", strokeWidth=1).encode(
        x=alt.value(1), x2=alt.value(2), y=alt.value(1)).properties(width=w, height=h)


p1 = panel(P1_T0, P1_XDOM, P1_TICKS, P1_LABELS, P1_DATA, P1_TITLE, P1_XTITLE, G1)
p2 = panel(P2_T0, P2_XDOM, P2_TICKS, P2_LABELS, P2_DATA, P2_TITLE, P2_XTITLE, G2)
p3 = panel(P3_T0, P3_XDOM, P3_TICKS, P3_LABELS, P3_DATA, P3_TITLE, P3_XTITLE, G3)
p4 = panel(P4_T0, P4_XDOM, P4_TICKS, P4_LABELS, P4_DATA, P4_TITLE, P4_XTITLE, G4, line=P4_LINE)
p5 = panel(P5_T0, P5_XDOM, P5_TICKS, P5_LABELS, P5_DATA, P5_TITLE, P5_XTITLE, G5)
p6 = panel(P6_T0, P6_XDOM, P6_TICKS, P6_LABELS, P6_DATA, P6_TITLE, P6_XTITLE, G6)

cells = [
    spacer(177, 64), spacer(1015, 64), spacer(268, 64), spacer(977, 64),
    spacer(177, 562), p1, spacer(268, 1), p2,
    spacer(177, 599), p3, spacer(268, 1), p4,
    spacer(177, 1), p5, spacer(268, 1), p6,
]

chart = alt.concat(*cells, columns=4, spacing=0, bounds="flush",
                   align=alt.RowColLayoutAlign(row="each", column="each")).properties(
    autosize=alt.AutoSizeParams(type="none"),
    padding={"left": 0, "top": 0, "right": 2437, "bottom": 1722},
    background="white").configure_view(stroke=None)

chart.save("out.html", embed_options={"renderer": "svg", "actions": False})
